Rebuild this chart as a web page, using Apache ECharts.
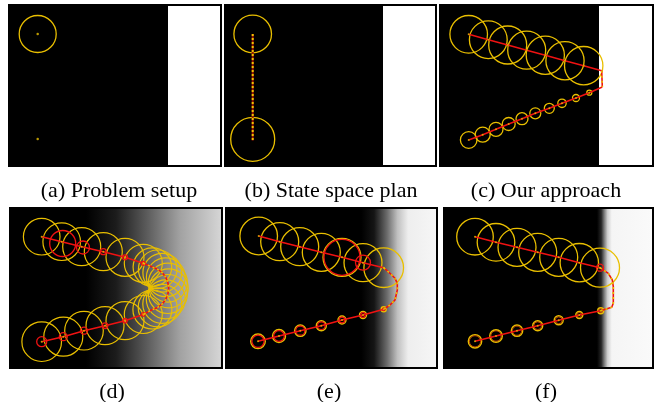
<!DOCTYPE html>
<html><head><meta charset="utf-8">
<script src="https://cdn.jsdelivr.net/npm/echarts@6/dist/echarts.min.js"></script>
<style>html,body{margin:0;padding:0;background:#fff}#c{width:656px;height:402px}</style>
</head><body><div id="c"></div>
<script>
// ---------------- data (panel-local units) ----------------
const captions = ['(a) Problem setup', '(b) State space plan', '(c) Our approach', '(d)', '(e)', '(f)'];

// (a) problem setup
const aCircles = [[27.7, 28, 18.5]];
const aDots = [[27.7, 28], [27.7, 133]];
const aLightX = 158;

// (b) state space plan
const bCircles = [[26.7, 28, 18.8], [26.7, 133.3, 22]];
const bPath = [[26.7, 28], [26.7, 134.5]];
const bLightX = 157;

// (c) our approach
const cTop = [[27.7, 28.3, 18.8], [47.3, 33.7, 18.9], [66.7, 39, 19], [85.7, 44.2, 19], [104.3, 49.3, 19.1], [124, 54.7, 19.1], [142.7, 59.7, 19.2]];
const cLink = [[160.7, 64.7], [161.3, 81]];
const cBottom = [[148.3, 86.7, 2.5], [135, 92, 3.5], [121, 97.3, 4.2], [108.3, 102.3, 5], [94.3, 107.3, 5.5], [81, 112.7, 6], [67.7, 118, 6.5], [55, 123.3, 7], [41.7, 128.7, 7.5], [27.7, 134, 8.3]];
const cLightX = 158;

// (d)
const dUpper = [[31.7, 28.7, 18.3], [51.7, 33.7, 18.8], [71.7, 38.7, 19], [93.3, 43.7, 19], [115, 49.3, 19], [133.3, 55.3, 19]];
const dTurn = [[142.4, 59.1, 19.3], [147.7, 61.3, 19.3], [152.3, 64.7, 19.4], [155.8, 69.3, 19.4], [157.9, 74.6, 19.5], [158.7, 80.3, 19.5], [157.9, 86, 19.5], [155.8, 91.3, 19.5], [152.3, 95.9, 19.5], [147.7, 99.4, 19.5], [142.4, 101.5, 19.5]];
const dLower = [[133.3, 106.5, 19], [115, 112.7, 19], [95, 117.7, 19], [74, 122.7, 19.3], [53.3, 128.7, 19.5], [31.7, 133.7, 19.8]];
const dRed = [[52.7, 35.5, 13], [73, 39.5, 6.5], [93.3, 43.7, 3], [115, 49.3, 2.5], [133.3, 55.3, 2], [133.3, 106.5, 1.8], [115, 112.7, 2.2], [95, 117.7, 2.8], [74, 122.7, 3.5], [53.3, 128.7, 4], [31.7, 133.7, 5]];

// (e)
const eTop = [[32.7, 28, 18.8], [53.7, 33.7, 19], [73.7, 38.7, 19], [95.3, 44.3, 19], [116, 49.3, 19], [137, 54.7, 19], [157.7, 59.7, 19.8]];
const eRed = [[116, 49.3, 18], [137, 54.7, 7.5]];
const eLink = [[157.7, 59.7], [164, 65.3], [169, 70.3], [171.3, 75.3], [171.3, 82], [169, 92], [164, 97], [157.7, 101.3]];
const eBottom = [[157.7, 101.3, 2.5], [137, 107, 3.5], [116, 112, 4], [95.3, 117.7, 5], [74.3, 122.7, 5.7], [53, 128, 6.5], [32, 133.3, 7.3]];

// (f)
const fTop = [[31, 28.7, 18.3], [52, 34.3, 18.8], [73, 39.3, 19], [93.7, 44.3, 19], [114.7, 49.3, 19], [135.3, 54.7, 19.2], [156, 59.7, 19.5]];
const fRed = [[156, 59.7, 3.5]];
const fLink = [[156, 59.7], [164.3, 65.3], [168.3, 72], [169.3, 78.7], [169.3, 95.3], [167.7, 99.3], [156.7, 102.7]];
const fBottom = [[156.7, 102.7, 3], [135.3, 107, 3.5], [114.7, 112.3, 4.5], [93.7, 117.7, 5], [73, 122.7, 5.7], [52, 128, 6.3], [31, 133.3, 6.7]];

// ---------------- styling / layout ----------------
const YEL = '#e9bf00';
const RED = '#f01212';
function grad(stops) {
  return { type: 'linear', x: 0, y: 0, x2: 1, y2: 0, colorStops: stops.map(s => ({ offset: s[0], color: s[1] })) };
}
const layout = [
  { left: 10, top: 6, w: 210, h: 159, bw: 4, bg: '#000' },
  { left: 226, top: 6, w: 209, h: 159, bw: 4, bg: '#000' },
  { left: 441, top: 6, w: 211, h: 159, bw: 4, bg: '#000' },
  { left: 10, top: 208, w: 212, h: 160, bw: 2, bg: grad([[0, '#000'], [0.36, '#000'], [0.5, '#1c1c1c'], [0.65, '#5e5e5e'], [0.8, '#a2a2a2'], [1, '#d8d8d8']]) },
  { left: 226, top: 208, w: 211, h: 160, bw: 2, bg: grad([[0, '#000'], [0.64, '#000'], [0.70, '#151515'], [0.76, '#6a6a6a'], [0.81, '#c0c0c0'], [0.86, '#eeeeee'], [1, '#f6f6f6']]) },
  { left: 444, top: 208, w: 209, h: 160, bw: 2, bg: grad([[0, '#000'], [0.73, '#000'], [0.75, '#262626'], [0.765, '#7f7f7f'], [0.78, '#cfcfcf'], [0.80, '#f5f5f5'], [1, '#fafafa']]) }
];
const capPos = [[119, 191], [331, 191], [546, 191], [112, 392], [329, 392], [546, 392]];

const xy = a => a.map(p => [p[0], p[1]]);
const shrink = (a, d) => a.map(p => [p[0], p[1], Math.max(p[2] - d, 0.8)]);

function circles(gi, data, color, lw, z) {
  return {
    type: 'custom', xAxisIndex: gi, yAxisIndex: gi, z: z || 4, silent: true, data,
    renderItem: (p, api) => {
      const c = api.coord([api.value(0), api.value(1)]);
      const s = api.size([api.value(2), 0]);
      return { type: 'circle', shape: { cx: c[0], cy: c[1], r: Math.abs(s[0]) }, style: { fill: 'none', stroke: color, lineWidth: lw } };
    }
  };
}
function path(gi, data, color, lw, z, dash) {
  return { type: 'line', xAxisIndex: gi, yAxisIndex: gi, data, symbol: 'none', z: z || 5, silent: true,
    lineStyle: { color, width: lw, type: dash || 'solid' } };
}
function dots(gi, data, color, size, z) {
  return { type: 'scatter', xAxisIndex: gi, yAxisIndex: gi, data: xy(data), symbolSize: size, z: z || 6, silent: true,
    itemStyle: { color } };
}
function dashed(gi, data, z) {
  return [path(gi, data, RED, 1.6, z || 5), path(gi, data, YEL, 1.6, (z || 5) + 0.1, [2, 3])];
}
function light(gi, x0) {
  return { type: 'line', xAxisIndex: gi, yAxisIndex: gi, data: [[x0, 0]], symbol: 'none', z: 1, silent: true,
    lineStyle: { width: 0 },
    markArea: { silent: true, itemStyle: { color: '#ffffff' }, data: [[{ xAxis: x0 }, { xAxis: layout[gi].w }]] } };
}

const series = [
  // (a)
  light(0, aLightX), circles(0, aCircles, YEL, 1.3), dots(0, aDots, YEL, 2.5),
  // (b)
  light(1, bLightX), circles(1, bCircles, YEL, 1.3),
  path(1, bPath, '#9a1a00', 2, 5), path(1, bPath, '#f0c000', 2, 5.1, [2, 2]),
  // (c)
  light(2, cLightX), circles(2, cTop, YEL, 1.3), circles(2, cBottom, YEL, 1.3),
  path(2, xy(cTop).concat([cLink[0]]), RED, 1.5),
  ...dashed(2, cLink),
  path(2, [cLink[1]].concat(xy(cBottom)), RED, 1.5),
  dots(2, cTop.concat(cBottom), YEL, 2),
  // (d)
  circles(3, dUpper.concat(dTurn, dLower), YEL, 1.2), circles(3, dRed, RED, 1.3, 4.5),
  path(3, xy(dUpper), RED, 1.5),
  ...dashed(3, [dUpper[dUpper.length - 1]].concat(xy(dTurn), [dLower[0]]).map(p => [p[0], p[1]])),
  path(3, xy(dLower), RED, 1.5),
  dots(3, dUpper.concat(dLower), YEL, 2),
  // (e)
  circles(4, eTop, YEL, 1.3), circles(4, eRed, RED, 1.3, 4.5),
  circles(4, eBottom, YEL, 1.4), circles(4, shrink(eBottom, 1.2), RED, 1.2, 4.5),
  path(4, xy(eTop), RED, 1.5),
  ...dashed(4, eLink),
  path(4, xy(eBottom), RED, 1.5),
  dots(4, eTop.concat(eBottom), YEL, 2),
  // (f)
  circles(5, fTop, YEL, 1.3), circles(5, fRed, RED, 1.3, 4.5),
  circles(5, fBottom, YEL, 1.4), circles(5, shrink(fBottom, 1.1), '#e85a00', 0.8, 4.5),
  path(5, xy(fTop), RED, 1.5),
  ...dashed(5, fLink),
  path(5, xy(fBottom), RED, 1.5),
  dots(5, fTop.concat(fBottom), YEL, 2)
];

const option = {
  animation: false,
  backgroundColor: '#ffffff',
  grid: layout.map(l => ({ left: l.left, top: l.top, width: l.w, height: l.h, show: true, backgroundColor: l.bg, borderColor: '#000', borderWidth: l.bw, containLabel: false })),
  xAxis: layout.map((l, i) => ({ gridIndex: i, type: 'value', min: 0, max: l.w, show: false })),
  yAxis: layout.map((l, i) => ({ gridIndex: i, type: 'value', min: 0, max: l.h, inverse: true, show: false })),
  series,
  graphic: captions.map((t, i) => ({
    type: 'text', x: capPos[i][0], y: capPos[i][1], silent: true,
    style: { text: t, textAlign: 'center', textVerticalAlign: 'middle', font: '22px "Liberation Serif"', fill: '#000' }
  }))
};
const chart = echarts.init(document.getElementById('c'), null, { renderer: 'canvas' });
chart.setOption(option);
</script>
</body></html>
